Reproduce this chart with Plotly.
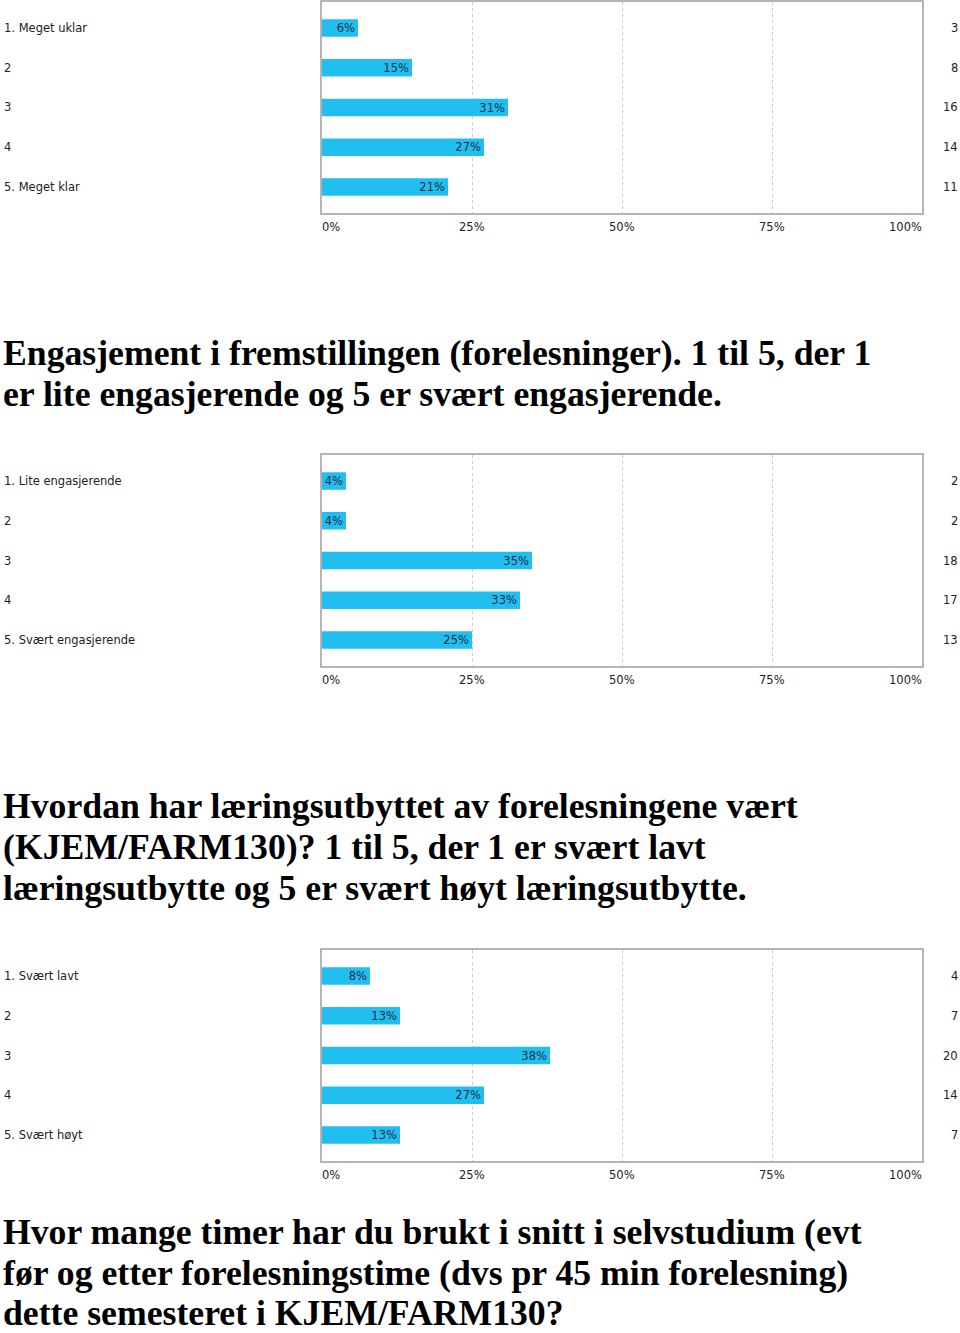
import plotly.graph_objects as go

W, H = 960, 1333

# ---- data ----
cats1 = ["1. Meget uklar", "2", "3", "4", "5. Meget klar"]
pct1 = [6, 15, 31, 27, 21]
cnt1 = [3, 8, 16, 14, 11]

cats2 = ["1. Lite engasjerende", "2", "3", "4", "5. Svært engasjerende"]
pct2 = [4, 4, 35, 33, 25]
cnt2 = [2, 2, 18, 17, 13]

cats3 = ["1. Svært lavt", "2", "3", "4", "5. Svært høyt"]
pct3 = [8, 13, 38, 27, 13]
cnt3 = [4, 7, 20, 14, 7]

xticks = [0, 25, 50, 75, 100]
xticklabels = ["0%", "25%", "50%", "75%", "100%"]

heading2 = ["Engasjement i fremstillingen (forelesninger). 1 til 5, der 1",
            "er lite engasjerende og 5 er svært engasjerende."]
heading3 = ["Hvordan har læringsutbyttet av forelesningene vært",
            "(KJEM/FARM130)? 1 til 5, der 1 er svært lavt",
            "læringsutbytte og 5 er svært høyt læringsutbytte."]
heading4 = ["Hvor mange timer har du brukt i snitt i selvstudium (evt",
            "før og etter forelesningstime (dvs pr 45 min forelesning)",
            "dette semesteret i KJEM/FARM130?"]

# ---- styling ----
BAR = "#20bff0"
TXT = "#1d2e4a"
LAB = "#222222"
BORDER = "#b5b5b5"
GRID = "#cccccc"
FONT = "DejaVu Sans"
FS = 11.5

def py(px):
    return 1 - px / H

# plot areas in pixels (top, bottom)
panels = [(2, 213, cats1, pct1, cnt1), (455, 666, cats2, pct2, cnt2), (950, 1161, cats3, pct3, cnt3)]
xdom = [322 / W, 922 / W]

fig = go.Figure()
annotations = []
layout_axes = {}

for i, (top, bot, cats, pct, cnt) in enumerate(panels):
    n = i + 1
    xa = "x" if n == 1 else f"x{n}"
    ya = "y" if n == 1 else f"y{n}"
    idx = list(range(len(cats)))
    fig.add_trace(go.Bar(
        x=pct, y=idx, orientation="h", xaxis=xa, yaxis=ya,
        marker=dict(color=BAR, line=dict(width=0)), width=0.44,
        text=[f"{p}%" for p in pct], textposition="inside",
        insidetextanchor="end", textangle=0, constraintext="none",
        textfont=dict(family=FONT, size=FS, color=TXT),
        hoverinfo="skip", showlegend=False,
    ))
    xkey = "xaxis" if n == 1 else f"xaxis{n}"
    ykey = "yaxis" if n == 1 else f"yaxis{n}"
    layout_axes[xkey] = dict(
        domain=xdom, anchor=ya, range=[0, 100], tickvals=xticks,
        showticklabels=False, ticks="", showgrid=True, gridcolor=GRID,
        griddash="3px,3px", gridwidth=1, showline=True, linecolor=BORDER,
        linewidth=1.5, mirror=True, zeroline=False, fixedrange=True,
    )
    layout_axes[ykey] = dict(
        domain=[py(bot), py(top)], anchor=xa, type="linear",
        range=[4.655, -0.655],
        showticklabels=False, ticks="", showgrid=False, showline=True,
        linecolor=BORDER, linewidth=1.5, mirror=True, zeroline=False,
        fixedrange=True,
    )
    # left category labels and right counts
    for j, (c, k) in enumerate(zip(cats, cnt)):
        annotations.append(dict(
            x=2 / W, xref="paper", y=j, yref=ya, text=c, showarrow=False,
            xanchor="left", yanchor="middle",
            font=dict(family=FONT, size=FS, color=LAB)))
        annotations.append(dict(
            x=960 / W, xref="paper", y=j, yref=ya, text=str(k), showarrow=False,
            xanchor="right", yanchor="middle",
            font=dict(family=FONT, size=FS, color=LAB)))
    # x tick labels
    for v, t in zip(xticks, xticklabels):
        anchor = "left" if v == 0 else ("right" if v == 100 else "center")
        shift = -2 if v == 0 else (2 if v == 100 else 0)
        annotations.append(dict(
            x=v, xref=xa, y=py(bot + 14), yref="paper", text=t, showarrow=False,
            xanchor=anchor, yanchor="middle", xshift=shift,
            font=dict(family=FONT, size=FS, color=LAB)))

# headings
HFONT = dict(family="Liberation Serif", size=35.7, color="#000000")
for lines, ys in [(heading2, [353, 394]), (heading3, [806, 847, 888]), (heading4, [1232, 1273, 1313])]:
    for line, yy in zip(lines, ys):
        annotations.append(dict(
            x=1 / W, xref="paper", y=py(yy), yref="paper",
            text=f"<b>{line}</b>", showarrow=False,
            xanchor="left", yanchor="middle", font=HFONT))

fig.update_layout(
    width=W, height=H, margin=dict(l=0, r=0, t=0, b=0),
    paper_bgcolor="white", plot_bgcolor="white",
    annotations=annotations, **layout_axes,
)

fig.write_html("out.html", config={"displayModeBar": False})
